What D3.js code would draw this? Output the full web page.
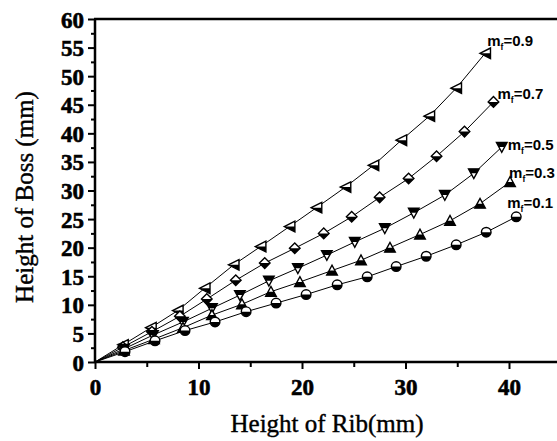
<!DOCTYPE html>
<html><head><meta charset="utf-8">
<script src="https://cdn.jsdelivr.net/npm/d3@7"></script>
<style>body{margin:0;background:#fff;overflow:hidden}</style>
</head><body><svg id="c" width="557" height="441"></svg>
<script>
// ---- data ----
const seriesNames = ["0.9", "0.7", "0.5", "0.3", "0.1"];
const rib09 = [0, 2.7, 5.4, 8.0, 10.6, 13.4, 16.0, 18.8, 21.4, 24.2, 26.9, 29.6, 32.3, 34.9, 37.7];
const boss09 = [0, 3.0, 6.0, 9.0, 12.9, 17.0, 20.2, 23.7, 27.0, 30.6, 34.4, 38.8, 43.0, 47.9, 54.0];
const rib07 = [0, 2.7, 5.5, 8.2, 10.8, 13.6, 16.4, 19.3, 22.1, 24.8, 27.5, 30.3, 33.0, 35.7, 38.5];
const boss07 = [0, 2.6, 5.3, 8.0, 11.0, 14.3, 17.3, 19.9, 22.5, 25.4, 28.8, 32.1, 36.0, 40.3, 45.5];
const rib05 = [0, 2.8, 5.6, 8.5, 11.3, 14.0, 16.8, 19.6, 22.4, 25.1, 28.0, 30.8, 33.8, 36.6, 39.3];
const boss05 = [0, 2.3, 4.7, 7.0, 9.4, 11.7, 14.2, 16.4, 18.7, 21.0, 23.4, 26.1, 29.2, 33.0, 37.6];
const rib03 = [0, 2.8, 5.7, 8.5, 11.3, 14.2, 17.0, 19.8, 22.9, 25.7, 28.5, 31.4, 34.3, 37.2, 40.1];
const boss03 = [0, 2.0, 4.0, 6.0, 8.2, 10.1, 12.3, 14.0, 16.0, 17.8, 20.0, 22.3, 24.7, 27.7, 31.5];
const rib01 = [0, 2.9, 5.8, 8.7, 11.6, 14.6, 17.5, 20.4, 23.4, 26.3, 29.1, 32.0, 34.9, 37.8, 40.7];
const boss01 = [0, 1.8, 3.7, 5.5, 7.0, 8.8, 10.3, 11.8, 13.5, 14.9, 16.7, 18.5, 20.5, 22.7, 25.4];
const xTicks = [0, 10, 20, 30, 40];
const yTicks = [0, 5, 10, 15, 20, 25, 30, 35, 40, 45, 50, 55, 60];

const ribs = [rib09, rib07, rib05, rib03, rib01];
const bosses = [boss09, boss07, boss05, boss03, boss01];
// marker shape per series and label offset (pixels from last point)
const shapes = ["left", "diamond", "down", "up", "circle"];
const labelOff = [[2, -7], [4, -3], [6, 3], [-1, -4], [-9, -9]];

const svg = d3.select("#c");
const x = d3.scaleLinear().domain([0, 45]).range([95, 95 + 45 * 10.35]);
const y = d3.scaleLinear().domain([0, 60]).range([362, 19]);

const defs = svg.append("defs");
defs.append("clipPath").attr("id", "lowHalf").append("rect").attr("x", -10).attr("y", 0).attr("width", 20).attr("height", 10);
defs.append("clipPath").attr("id", "upHalf").append("rect").attr("x", -10).attr("y", -10).attr("width", 20).attr("height", 10);

function shapePath(s) {
  const r = 5.3;
  if (s === "left") return `M${-r},0L${r},${-r}L${r},${r}Z`;
  if (s === "diamond") return `M0,${-r}L${r},0L0,${r}L${-r},0Z`;
  if (s === "down") return `M${-r},${-r*0.85}L${r},${-r*0.85}L0,${r}Z`;
  if (s === "up") return `M${-r},${r*0.85}L${r},${r*0.85}L0,${-r}Z`;
  return d3.arc()({innerRadius: 0, outerRadius: 4.8, startAngle: 0, endAngle: 2 * Math.PI});
}

const line = d3.line().x(d => x(d[0])).y(d => y(d[1]));

ribs.forEach((rx, i) => {
  const pts = rx.map((v, j) => [v, bosses[i][j]]);
  svg.append("path").attr("d", line(pts)).attr("fill", "none").attr("stroke", "#000").attr("stroke-width", 1);
  const g = svg.append("g");
  pts.slice(1).forEach(p => {
    const m = g.append("g").attr("transform", `translate(${x(p[0])},${y(p[1])})`);
    const d = shapePath(shapes[i]);
    m.append("path").attr("d", d).attr("fill", "#fff").attr("stroke", "#000").attr("stroke-width", 1.4);
    m.append("path").attr("d", d).attr("fill", "#000").attr("clip-path", shapes[i] === "down" ? "url(#upHalf)" : "url(#lowHalf)");
  });
  const last = pts[pts.length - 1];
  const t = svg.append("text")
    .attr("x", x(last[0]) + labelOff[i][0])
    .attr("y", y(last[1]) + labelOff[i][1])
    .attr("font-family", "Liberation Sans, Arial, sans-serif")
    .attr("font-weight", "bold").attr("font-size", 15).attr("fill", "#000");
  t.append("tspan").text("m");
  t.append("tspan").attr("font-size", 8.5).attr("dy", 4).text("f");
  t.append("tspan").attr("dy", -4).text("=" + seriesNames[i]);
});

const serif = "Liberation Serif, Times New Roman, serif";
// axes
const xAxis = d3.axisBottom(x).tickValues(d3.range(0, 46, 5)).tickSize(7).tickFormat(d => xTicks.includes(d) ? d : "");
const gx = svg.append("g").attr("transform", "translate(0,362)").call(xAxis);
gx.select(".domain").remove();
gx.selectAll(".tick line").attr("stroke", "#000").attr("stroke-width", 2)
  .attr("y2", d => d % 10 === 0 ? 7 : 5);
gx.selectAll(".tick text").attr("font-family", serif)
  .attr("font-weight", "bold").attr("font-size", 23).attr("fill", "#000")
  .attr("stroke", "#000").attr("stroke-width", 0.6).attr("dy", 0).attr("y", 33);

const yAxis = d3.axisLeft(y).tickValues(d3.range(0, 60.1, 2.5)).tickSize(7).tickFormat(d => yTicks.includes(d) ? d : "");
const gy = svg.append("g").attr("transform", "translate(95,0)").call(yAxis);
gy.select(".domain").remove();
gy.selectAll(".tick line").attr("stroke", "#000").attr("stroke-width", 2)
  .attr("x2", d => d % 5 === 0 ? -7 : -4);
gy.selectAll(".tick text").attr("font-family", serif)
  .attr("font-weight", "bold").attr("font-size", 23).attr("fill", "#000")
  .attr("stroke", "#000").attr("stroke-width", 0.6).attr("x", -11).attr("dy", "0.35em");

// frame lines
svg.append("line").attr("x1", 95).attr("x2", 557).attr("y1", 362).attr("y2", 362).attr("stroke", "#000").attr("stroke-width", 2.5);
svg.append("line").attr("x1", 95).attr("x2", 95).attr("y1", 19).attr("y2", 363).attr("stroke", "#000").attr("stroke-width", 2.5);
svg.append("line").attr("x1", 94).attr("x2", 557).attr("y1", 19).attr("y2", 19).attr("stroke", "#000").attr("stroke-width", 2.5);

// axis titles
svg.append("text").attr("x", 327).attr("y", 432).attr("text-anchor", "middle")
  .attr("font-family", serif).attr("font-size", 25).attr("fill", "#000")
  .attr("stroke", "#000").attr("stroke-width", 0.4)
  .text("Height of Rib(mm)");
svg.append("text").attr("transform", "translate(33,197) rotate(-90)").attr("text-anchor", "middle")
  .attr("font-family", serif).attr("font-size", 25).attr("fill", "#000")
  .attr("stroke", "#000").attr("stroke-width", 0.4)
  .text("Height of Boss (mm)");
</script>
</body></html>
